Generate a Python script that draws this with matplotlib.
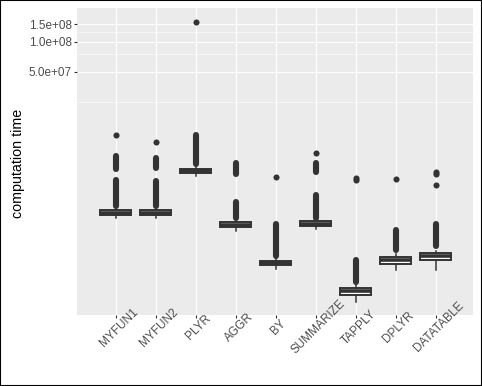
import matplotlib
matplotlib.use("Agg")
import matplotlib.pyplot as plt
import matplotlib.transforms as mtransforms
from matplotlib.patches import Rectangle
from matplotlib.ticker import FixedLocator, NullFormatter

plt.rcParams["font.family"] = ["Liberation Sans", "DejaVu Sans"]

# computation time per method (log axis)
methods = ["MYFUN1", "MYFUN2", "PLYR", "AGGR", "BY", "SUMMARIZE", "TAPPLY", "DPLYR", "DATATABLE"]
whisker_low = [1.72e6, 1.72e6, 4.58e6, 1.285e6, 5.32e5, 1.327e6, 2.51e5, 5.20e5, 5.20e5]
q1 = [1.845e6, 1.845e6, 4.82e6, 1.39e6, 5.79e5, 1.432e6, 2.92e5, 5.93e5, 6.55e5]
median = [1.954e6, 1.954e6, 5.08e6, 1.466e6, 6.11e5, 1.517e6, 3.18e5, 6.50e5, 7.13e5]
q3 = [2.07e6, 2.07e6, 5.32e6, 1.56e6, 6.44e5, 1.607e6, 3.46e5, 6.97e5, 7.64e5]
whisker_high = [2.22e6, 2.22e6, 5.57e6, 1.644e6, 6.78e5, 1.683e6, 3.68e5, 7.52e5, 8.05e5]

# isolated outliers
outliers = [
    [1.156e7],
    [9.84e6],
    [1.57e8],
    [],
    [4.40e6],
    [7.64e6],
    [4.33e6, 4.13e6],
    [4.20e6],
    [4.97e6, 4.74e6, 3.66e6],
]
# ranges where outliers pile up into a solid streak
outlier_bands = [
    [(2.27e6, 4.13e6), (5.38e6, 7.18e6)],
    [(2.27e6, 4.04e6), (5.51e6, 6.93e6)],
    [(5.97e6, 1.164e7)],
    [(1.722e6, 2.518e6), (4.74e6, 6.18e6)],
    [(7.18e5, 1.50e6)],
    [(1.742e6, 2.92e6), (5.02e6, 6.18e6)],
    [(3.99e5, 6.55e5)],
    [(8.15e5, 1.306e6)],
    [(9.04e5, 1.50e6)],
]

y_major = [5e7, 1e8, 1.5e8]
y_major_labels = ["5.0e+07", "1.0e+08", "1.5e+08"]
y_minor = [2.5e7, 7.5e7, 1.25e8]

dark = "#333333"
pt_size = 4.4

fig = plt.figure(figsize=(4.82, 3.86), dpi=100)
ax = fig.add_axes([77 / 482, 1 - 315 / 386, 396 / 482, 307 / 386])
ax.set_facecolor("#EBEBEB")
for s in ax.spines.values():
    s.set_visible(False)

xs = list(range(len(methods)))
for i, bands in enumerate(outlier_bands):
    for lo, hi in bands:
        ax.plot([i, i], [lo, hi], color=dark, lw=pt_size, solid_capstyle="round", zorder=2)

stats = []
for i in xs:
    stats.append({
        "whislo": whisker_low[i], "q1": q1[i], "med": median[i],
        "q3": q3[i], "whishi": whisker_high[i], "fliers": outliers[i],
    })
ax.bxp(stats, positions=xs, widths=0.77, patch_artist=True, showcaps=False,
       boxprops=dict(facecolor="white", edgecolor=dark, linewidth=1.4),
       medianprops=dict(color=dark, linewidth=2.6, solid_capstyle="butt"),
       whiskerprops=dict(color=dark, linewidth=1.1),
       flierprops=dict(marker="o", markerfacecolor=dark, markeredgecolor="none", markersize=pt_size),
       manage_ticks=False, zorder=3)

ax.set_yscale("log")
ax.set_ylim(1.845e5, 2.17e8)
ax.set_xlim(-0.97, 8.93)

ax.yaxis.set_major_locator(FixedLocator(y_major))
ax.set_yticklabels(y_major_labels)
ax.yaxis.set_minor_locator(FixedLocator(y_minor))
ax.yaxis.set_minor_formatter(NullFormatter())
ax.set_xticks(xs)
ax.set_xticklabels(methods, rotation=45, ha="center", va="center", rotation_mode="anchor")

ax.grid(which="major", color="white", lw=0.8)
ax.grid(which="minor", axis="y", color="white", lw=0.4)
ax.set_axisbelow(True)

ax.tick_params(axis="both", which="major", length=2.2, width=0.8, color=dark,
               labelsize=8.5, labelcolor="#4D4D4D")
ax.tick_params(axis="y", which="major", pad=1.5)
ax.tick_params(axis="x", which="major", pad=6.6)
ax.tick_params(which="minor", length=0)

shift = mtransforms.ScaledTranslation(3 / 100, 0, fig.dpi_scale_trans)
for lab in ax.get_xticklabels():
    lab.set_transform(lab.get_transform() + shift)

fig.text(18 / 482, 1 - 163 / 386, "computation time", rotation=90,
         ha="center", va="center", fontsize=10.3, color="black")

fig.add_artist(Rectangle((0, 0), 1, 1, transform=fig.transFigure, fill=False,
                         edgecolor="black", lw=1.5))

fig.savefig("out.png", dpi=100)
